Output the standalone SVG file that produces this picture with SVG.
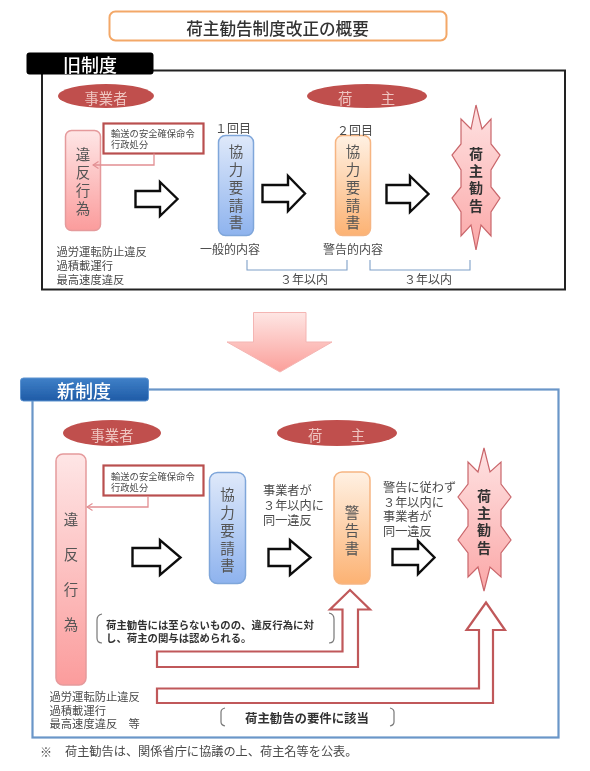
<svg xmlns="http://www.w3.org/2000/svg" width="590" height="771" viewBox="0 0 590 771">
<style>
text{font-family:"Noto Sans CJK JP","Noto Sans",sans-serif;fill:#4a4a4a;dominant-baseline:central}
.c{text-anchor:middle}
.t{font-size:11.3px}
.s{font-size:12px}
.n{font-size:12.2px}
.b9{font-size:9.3px}
.v{font-size:14.5px;text-anchor:middle;fill:#555;writing-mode:vertical-rl;letter-spacing:3.3px}
.w{letter-spacing:20.5px}
.bb{font-size:14px;font-weight:700;text-anchor:middle;fill:#333;writing-mode:vertical-rl;letter-spacing:3.3px}
.el{fill:#c0504d}
.elt{font-size:14.3px;fill:#efc4c0;text-anchor:middle}
.pink{fill:url(#gp);stroke:#e59a9c;stroke-width:1.5}
.blue{fill:url(#gb);stroke:#7fa6da;stroke-width:1.5}
.or{fill:url(#go);stroke:#f6b582;stroke-width:1.5}
.burst{fill:url(#gr);stroke:#c9666b;stroke-width:1.2}
.red{fill:#fff;stroke:#b9504f;stroke-width:2.2}
.dbl{fill:#fff;stroke:#c0595a;stroke-width:2.2}
.blk{fill:#fff;stroke:#111;stroke-width:2.4}
.thin{fill:none;stroke:#e28f92;stroke-width:1.3}
.brk{fill:none;stroke:#7fa0c8;stroke-width:1.1}
.gb{fill:none;stroke:#777;stroke-width:1.2}
.bt{font-size:10.4px;font-weight:700;fill:#333}
</style>
<defs>
<linearGradient id="gp" x1="0" y1="0" x2="0" y2="1"><stop offset="0" stop-color="#fee6e6"/><stop offset="1" stop-color="#fb9c9c"/></linearGradient>
<linearGradient id="gb" x1="0" y1="0" x2="0" y2="1"><stop offset="0" stop-color="#dfe9fa"/><stop offset="1" stop-color="#8eb3ee"/></linearGradient>
<linearGradient id="go" x1="0" y1="0" x2="0" y2="1"><stop offset="0" stop-color="#fff1e3"/><stop offset="1" stop-color="#fcb273"/></linearGradient>
<linearGradient id="gr" x1="0" y1="0" x2="0" y2="1"><stop offset="0" stop-color="#fee2e2"/><stop offset="1" stop-color="#fba8a8"/></linearGradient>
<linearGradient id="gd" x1="0" y1="0" x2="0" y2="1"><stop offset="0" stop-color="#fee6e4"/><stop offset="1" stop-color="#fb9f9a"/></linearGradient>
<linearGradient id="gh" x1="0" y1="0" x2="0" y2="1"><stop offset="0" stop-color="#3f80c8"/><stop offset="1" stop-color="#1f5ba6"/></linearGradient>
<marker id="ah" markerUnits="userSpaceOnUse" markerWidth="9" markerHeight="9" refX="7.500" refY="4.500" orient="auto"><path d="M2 1L7.500 4.500L2 8" fill="none" stroke="#e28f92" stroke-width="1.2"/></marker>
<filter id="soft" filterUnits="userSpaceOnUse" x="0" y="0" width="590" height="771"><feGaussianBlur stdDeviation="0.45"/></filter>
</defs>
<rect width="590" height="771" fill="#fff"/>
<g filter="url(#soft)">
<g id="title"><rect x="109.500" y="11.500" width="337" height="29" rx="6" fill="#fff" stroke="#f3a868" stroke-width="2"/><text class="c" x="277.500" y="28" font-size="16.600" font-weight="500" style="fill:#333">荷主勧告制度改正の概要</text></g>

<g id="old-frame"><rect x="42" y="70.500" width="523" height="219" fill="#fff" stroke="#222" stroke-width="2"/><rect x="26.500" y="52.500" width="127" height="22" rx="3" fill="#000"/><text class="c" x="90" y="64" font-size="18" font-weight="500" style="fill:#fff">旧制度</text></g>

<g id="old-actor1"><ellipse class="el" cx="106" cy="96" rx="48" ry="12"/><text class="elt" x="106" y="97">事業者</text></g>
<g id="old-actor2"><ellipse class="el" cx="367" cy="96" rx="60" ry="12"/><text class="elt" x="366.500" y="97">荷　　主</text></g>
<g id="old-violation"><rect class="pink" x="65.500" y="130.500" width="35" height="100" rx="6"/><text class="v" x="83" y="183">違反行為</text></g>
<g id="old-order"><rect class="red" x="103.500" y="123.500" width="100" height="30" fill="#fff"/><text class="b9"><tspan x="111" y="133">輸送の安全確保命令</tspan><tspan x="111" y="144">行政処分</tspan></text></g>
<g id="old-request1"><text class="s c" x="233" y="127">１回目</text><rect class="blue" x="218.500" y="135.500" width="35" height="100" rx="7"/><text class="v" x="236" y="189">協力要請書</text><text class="s" x="200" y="248">一般的内容</text></g>
<g id="old-request2"><rect class="or" x="335.500" y="135.500" width="35" height="100" rx="7"/><text class="s c" x="355" y="129">２回目</text><text class="v" x="353" y="189">協力要請書</text><text class="s" x="323" y="248">警告的内容</text></g>
<g id="old-recommend"><path class="burst" d="M476 105L482 129L491 119V144L500 155L491 170V187L500 198L491 212V236L481 225L476 250L471 225L461 236V212L452 198L461 187V170L452 155L461 144V119L471 129Z"/><text class="bb" x="476" y="181">荷主勧告</text></g>
<g id="old-notes"><text class="t"><tspan x="56.500" y="251">過労運転防止違反</tspan><tspan x="56.500" y="265">過積載運行</tspan><tspan x="56.500" y="279">最高速度違反</tspan></text><text class="s" x="280" y="278">３年以内</text><text class="s" x="404" y="278">３年以内</text></g>

<g id="shift-arrow"><path d="M253.500 312.500H306V342H332L280 372L227 342H253.500Z" fill="url(#gd)" stroke="#f4b5b3" stroke-width="1"/></g>

<g id="new-frame"><rect x="32.500" y="389.500" width="526" height="348" fill="#fff" stroke="#6a96c8" stroke-width="2.200"/><rect x="20.500" y="378" width="128" height="23" rx="3" fill="url(#gh)" stroke="#5d93d0"/><text class="c" x="84" y="390" font-size="18" font-weight="500" style="fill:#fff">新制度</text></g>
<g id="new-actor1"><ellipse class="el" cx="112" cy="433" rx="49" ry="13"/><text class="elt" x="112" y="434">事業者</text></g>
<g id="new-actor2"><ellipse class="el" cx="337" cy="433" rx="60" ry="13"/><text class="elt" x="336.500" y="434">荷　　主</text></g>
<g id="new-violation"><rect class="pink" x="56" y="454" width="30" height="231" rx="7"/><text class="v w" x="71" y="582">違反行為</text></g>
<g id="new-order"><rect class="red" x="103.500" y="465.500" width="100" height="30"/><text class="b9"><tspan x="111" y="476">輸送の安全確保命令</tspan><tspan x="111" y="487">行政処分</tspan></text></g>
<g id="new-request"><rect class="blue" x="209.500" y="472.500" width="36" height="111" rx="8"/><text class="v" x="227.500" y="532">協力要請書</text></g>
<g id="new-warning"><rect class="or" x="334" y="472" width="36" height="112" rx="8"/><text class="v" x="352" y="532">警告書</text></g>
<g id="new-recommend"><path class="burst" d="M484 448L490 472L501 462V484L511 497L501 510V526L511 540L501 553V577L490 567L484 591L478 567L468 577V553L458 540L468 526V510L458 497L468 484V462L478 472Z"/><text class="bb" x="484" y="523">荷主勧告</text></g>
<g id="new-notes"><text class="n"><tspan x="263" y="490">事業者が</tspan><tspan x="263" y="505">３年以内に</tspan><tspan x="263" y="520">同一違反</tspan></text>
<text class="n"><tspan x="383" y="487">警告に従わず</tspan><tspan x="383" y="502">３年以内に</tspan><tspan x="383" y="516">事業者が</tspan><tspan x="383" y="531">同一違反</tspan></text>
<text class="t"><tspan x="49.500" y="696">過労運転防止違反</tspan><tspan x="49.500" y="710">過積載運行</tspan><tspan x="49.500" y="723">最高速度違反　等</tspan></text>
<text class="bt"><tspan x="106" y="624">荷主勧告には至らないものの、違反行為に対</tspan><tspan x="106" y="637">し、荷主の関与は認められる。</tspan></text>
<text x="245" y="718" font-size="12.400" font-weight="700" style="fill:#333">荷主勧告の要件に該当</text>
<text x="40" y="751" font-size="12">※</text><text x="65" y="751" font-size="12.200">荷主勧告は、関係省庁に協議の上、荷主名等を公表。</text></g>

<g id="connectors">
<path class="thin" d="M154 153.500V165H93" marker-end="url(#ah)"/>
<path class="thin" d="M148 496V507H87" marker-end="url(#ah)"/>
<path class="blk" d="M135.500 191H160V182L177.500 199L160 216V207H135.500Z"/>
<path class="blk" d="M262.500 185H288V176L305 193.500L288 211V202H262.500Z"/>
<path class="blk" d="M386.500 185H410V176L428.500 194L410 212V203H386.500Z"/>
<path class="blk" d="M132.500 548H160V540L180.500 557.500L160 575V566H132.500Z"/>
<path class="blk" d="M268.500 549H290V540L310.500 557.500L290 575V566H268.500Z"/>
<path class="blk" d="M392.500 549H418V541L434.500 557.500L418 574V565H392.500Z"/>
<path class="dbl" d="M157 651.500H342.500V609.500H330L350 590L370 609.500H358V667H157Z"/>
<path class="dbl" d="M157 688.500H479V630H466.500L486 602.500L505 630H493V703H157Z"/>
<path class="brk" d="M247 260V270H347V260"/>
<path class="brk" d="M370 260V270H470V260"/>
<path class="gb" d="M102 614Q97 615 97 620V638Q97 643 102 643"/>
<path class="gb" d="M329 613Q334 614 334 619V638Q334 643 329 643"/>
<path class="gb" d="M225 708Q221 709 221 712V722Q221 725 225 726"/>
<path class="gb" d="M390 708Q394 709 394 712V722Q394 725 390 726"/>
</g>
</g>
</svg>
